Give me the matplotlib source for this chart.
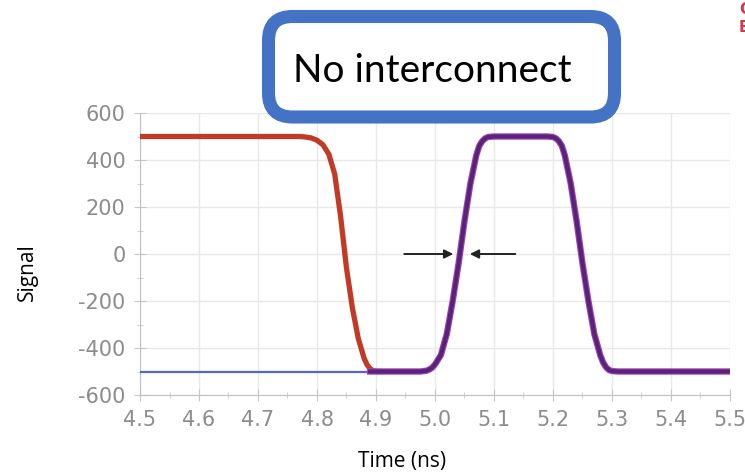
import matplotlib.pyplot as plt
from matplotlib.patches import FancyBboxPatch
import numpy as np

# signals (time in ns, signal)
red_t = [4.50, 4.77, 4.78, 4.79, 4.80, 4.81, 4.82, 4.83, 4.84, 4.85, 4.86, 4.87, 4.88,
         4.885, 4.89, 4.895, 4.90, 4.91]
red_v = [500, 500, 498, 494, 484, 465, 425, 340, 160, -60, -230, -360, -445,
         -472, -488, -496, -500, -500]

purple_t = [4.89, 4.975, 4.985, 4.99, 4.995, 5.00, 5.01, 5.02, 5.03, 5.04, 5.05, 5.06, 5.07,
            5.075, 5.08, 5.085, 5.09, 5.10, 5.19, 5.20, 5.205, 5.21, 5.215, 5.22, 5.23, 5.24,
            5.25, 5.26, 5.27, 5.28, 5.285, 5.29, 5.295, 5.30, 5.31, 5.50]
purple_v = [-500, -500, -497, -492, -484, -470, -430, -340, -200, -40, 140, 300, 420,
            460, 480, 492, 498, 500, 500, 498, 492, 480, 460, 420, 300, 140,
            -40, -200, -340, -430, -462, -482, -494, -498, -500, -500]

blue_t = [4.50, 4.90]
blue_v = [-500, -500]

# arrows marking the crossing at 0 (tail, tip)
arrow_left = (4.948, 5.031)
arrow_right = (5.136, 5.059)

xticks = [4.5, 4.6, 4.7, 4.8, 4.9, 5.0, 5.1, 5.2, 5.3, 5.4, 5.5]
yticks = [600, 400, 200, 0, -200, -400, -600]

fig = plt.figure(figsize=(7.45, 4.73), dpi=100)
ax = fig.add_axes([140 / 745, 1 - 395 / 473, 590 / 745, 282 / 473])

ax.plot(blue_t, blue_v, color="#5565c8", lw=1.6, zorder=3)
ax.plot(red_t, red_v, color="#c23a26", lw=3.8, solid_joinstyle="round",
        solid_capstyle="round", zorder=4)
ax.plot(purple_t, purple_v, color="#9a48b8", lw=4.6, solid_joinstyle="round", zorder=4)
ax.plot(purple_t, purple_v, color="#5c2278", lw=3.0, solid_joinstyle="round", zorder=5)

for tail, tip in (arrow_left, arrow_right):
    ax.annotate("", xy=(tip, 0), xytext=(tail, 0),
                arrowprops=dict(arrowstyle="-|>", color="#222222", lw=1.4,
                                mutation_scale=13, shrinkA=0, shrinkB=0), zorder=6)

ax.set_xlim(4.5, 5.5)
ax.set_ylim(-600, 600)
ax.set_xticks(xticks)
ax.set_yticks(yticks)
ax.set_xticklabels([f"{v:.1f}" for v in xticks])
ax.set_yticklabels([str(v) for v in yticks])
ax.set_xticks(np.arange(4.55, 5.5, 0.1), minor=True)
ax.set_yticks(np.arange(-500, 600, 200), minor=True)
ax.grid(True, which="major", color="#e8e8e8", lw=1.0, zorder=0)
ax.tick_params(which="major", direction="inout", length=9, color="#c8c8c8",
               labelsize=15, labelcolor="#8c8c8c", pad=6)
ax.tick_params(which="minor", direction="inout", length=5, color="#c8c8c8")
for s in ("top", "right"):
    ax.spines[s].set_visible(False)
for s in ("left", "bottom"):
    ax.spines[s].set_color("#c0c0c0")

fig.text(27 / 745, 1 - 272 / 473, "Signal", fontsize=15, family="Open Sans",
         rotation=90, ha="center", va="center")
fig.text(402 / 745, 1 - 467 / 473, "Time (ns)", fontsize=15, family="Open Sans",
         ha="center", va="baseline")

# title box over the top of the plot
box = FancyBboxPatch((2.685, 3.56), 3.46, 1.005, boxstyle="round,pad=0,rounding_size=0.24",
                     transform=fig.dpi_scale_trans, facecolor="white",
                     edgecolor="#4472c4", lw=9.4, zorder=10)
fig.patches.append(box)
fig.text(432 / 745, 1 - 82 / 473, "No interconnect", fontsize=28, family="Lato",
         ha="center", va="baseline", zorder=11)

# clipped red letters in the top right corner
fig.text(739 / 745, 1 - 9 / 473, "C", color="#d33a48", fontsize=11, weight="bold",
         ha="left", va="center")
fig.text(739 / 745, 1 - 27 / 473, "B", color="#d33a48", fontsize=11, weight="bold",
         ha="left", va="center")

fig.savefig("out.png", dpi=100)
